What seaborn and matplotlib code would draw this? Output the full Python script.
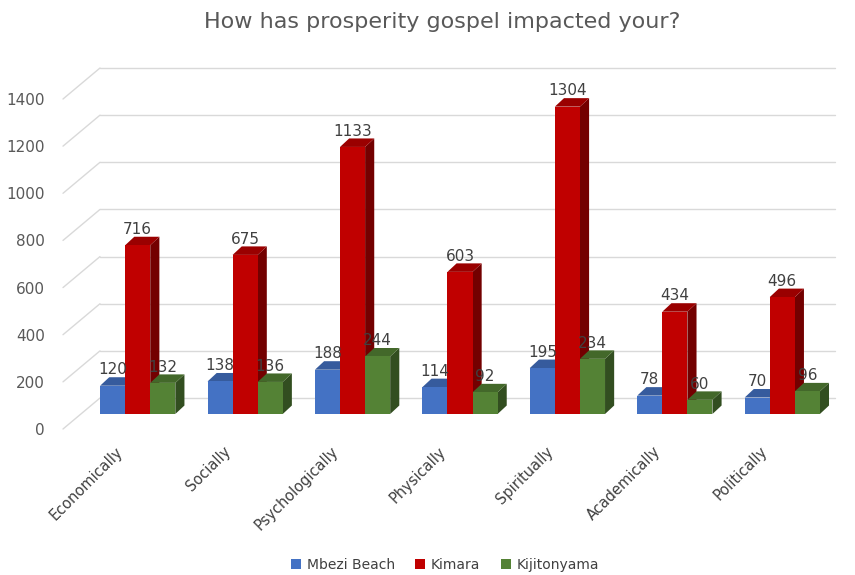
import matplotlib
matplotlib.use("Agg")
import matplotlib.pyplot as plt
import matplotlib.transforms as mtransforms
import seaborn as sns
import pandas as pd
import numpy as np
from matplotlib.patches import Polygon, Patch
from matplotlib.colors import to_rgb

categories = ["Economically", "Socially", "Psychologically", "Physically",
              "Spiritually", "Academically", "Politically"]
mbezi = [120, 138, 188, 114, 195, 78, 70]
kimara = [716, 675, 1133, 603, 1304, 434, 496]
kijitonyama = [132, 136, 244, 92, 234, 60, 96]
series_names = ["Mbezi Beach", "Kimara", "Kijitonyama"]
colors = ["#4472C4", "#C00000", "#548235"]
title = "How has prosperity gospel impacted your?"
yticks = list(range(0, 1401, 200))

df = pd.DataFrame({
    "category": categories * 3,
    "series": [s for s in series_names for _ in categories],
    "value": mbezi + kimara + kijitonyama,
})

sns.set_theme(style="white")
plt.rcParams["font.family"] = ["DejaVu Sans"]

DPI = 100
fig = plt.figure(figsize=(8.55, 5.75), dpi=DPI)
ax = fig.add_axes([84 / 855, 161 / 575, 752 / 855, 330 / 575])

sns.barplot(data=df, x="category", y="value", hue="series", palette=colors,
            width=0.7, ax=ax, saturation=1, edgecolor="none", legend=False,
            order=categories, hue_order=series_names)

ax.set_yticks(yticks)
for s in ax.spines.values():
    s.set_visible(False)
ax.grid(False)
ax.tick_params(axis="y", colors="#595959", labelsize=11, length=0, pad=28)
ax.tick_params(axis="x", colors="#404040", labelsize=10.5, length=0, pad=0)
ax.set_xlabel("")
ax.set_ylabel("")


def px(dx, dy):
    return mtransforms.ScaledTranslation(dx / DPI, dy / DPI, fig.dpi_scale_trans)


for t in ax.get_yticklabels():
    t.set_transform(t.get_transform() + px(0, -15))
for t in ax.get_xticklabels():
    t.set_rotation(45)
    t.set_ha("right")
    t.set_rotation_mode("anchor")
    t.set_transform(t.get_transform() + px(-22, -30))

ax.set_ylim(0, 1400)
ax.set_xlim(-0.5, len(categories) - 0.5)

# back-wall gridlines and side-wall diagonals (pseudo-3D frame)
blend = mtransforms.blended_transform_factory(ax.transAxes, ax.transData)
for v in yticks:
    ax.plot([0, 0.977], [v, v], color="#D9D9D9", lw=1, clip_on=False,
            transform=blend + px(16, 16), zorder=0)
    x0d, y0d = blend.transform((0, v))
    ax.plot([x0d - 21, x0d + 16], [y0d - 15, y0d + 16], color="#D9D9D9",
            lw=1, clip_on=False, transform=None, zorder=0)
ax.set_ylim(0, 1400)
ax.set_xlim(-0.5, len(categories) - 0.5)

# 3D-like depth faces derived from each bar patch
dx = 0.085
dy = 36
for ci, cont in enumerate(ax.containers):
    base = np.array(to_rgb(colors[ci]))
    side = base * 0.6
    top = np.clip(base * 0.8, 0, 1)
    for p in cont.patches:
        p.set_zorder(3 + ci * 2)
        x0, w, h = p.get_x(), p.get_width(), p.get_height()
        x1 = x0 + w
        ax.add_patch(Polygon([(x1, 0), (x1 + dx, dy), (x1 + dx, h + dy), (x1, h)],
                             closed=True, facecolor=side, edgecolor="none",
                             zorder=2 + ci * 2))
        ax.add_patch(Polygon([(x0, h), (x0 + dx, h + dy), (x1 + dx, h + dy), (x1, h)],
                             closed=True, facecolor=top, edgecolor="none",
                             zorder=2 + ci * 2))
    labels = ax.bar_label(cont, labels=[str(int(v)) for v in cont.datavalues],
                          padding=6, fontsize=11, color="#404040")
    for t in labels:
        t.set_zorder(20)

fig.text(442 / 855, 1 - 22 / 575, title, ha="center", va="center",
         fontsize=16, color="#595959")

handles = [Patch(facecolor=c, edgecolor="none") for c in colors]
fig.legend(handles, series_names, loc="center", bbox_to_anchor=(445 / 855, 1 - 565 / 575),
           ncol=3, frameon=False, fontsize=10, handlelength=0.7, handleheight=0.7,
           handletextpad=0.4, columnspacing=1.5, labelcolor="#404040")

fig.savefig("out.png", dpi=DPI)
